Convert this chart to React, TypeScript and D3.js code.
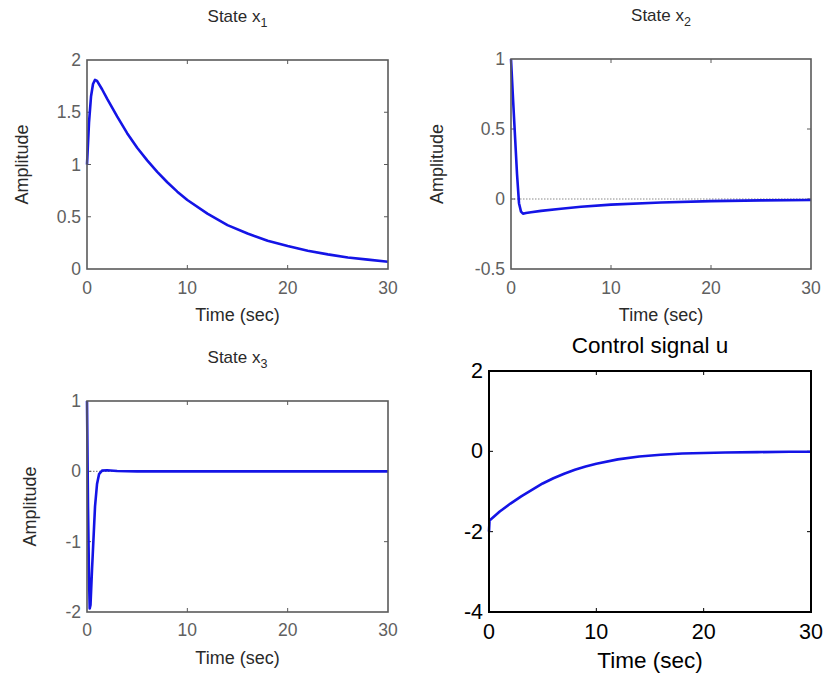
import * as d3 from 'd3';

// time axis shared by every panel
const timeTicks = [0, 10, 20, 30];

// State x1
const x1Time = [0, 0.2, 0.4, 0.6, 0.8, 1.0, 1.5, 2, 3, 4, 5, 6, 7, 8, 9, 10, 12, 14, 16, 18, 20, 22, 24, 26, 28, 30];
const x1Value = [1.0, 1.4, 1.65, 1.77, 1.81, 1.8, 1.72, 1.63, 1.46, 1.3, 1.16, 1.04, 0.93, 0.83, 0.74, 0.66, 0.53, 0.42, 0.34, 0.27, 0.22, 0.175, 0.14, 0.11, 0.09, 0.07];
const x1Ticks = [0, 0.5, 1, 1.5, 2];

// State x2
const x2Time = [0, 0.2, 0.4, 0.6, 0.8, 1.0, 1.2, 1.5, 2, 3, 5, 7, 10, 15, 20, 25, 30];
const x2Value = [1.0, 0.72, 0.45, 0.18, -0.03, -0.09, -0.105, -0.1, -0.095, -0.085, -0.07, -0.055, -0.04, -0.025, -0.015, -0.01, -0.007];
const x2Ticks = [-0.5, 0, 0.5, 1];

// State x3
const x3Time = [0, 0.1, 0.2, 0.27, 0.35, 0.5, 0.8, 1.0, 1.2, 1.5, 2, 3, 5, 30];
const x3Value = [1.0, -0.5, -1.5, -1.95, -1.9, -1.4, -0.5, -0.18, -0.04, 0.01, 0.015, 0.005, 0, 0];
const x3Ticks = [-2, -1, 0, 1];

// Control signal u
const uTime = [0, 0.05, 1, 2, 3, 4, 5, 6, 7, 8, 9, 10, 12, 14, 16, 18, 20, 22, 25, 28, 30];
const uValue = [-2.0, -1.72, -1.5, -1.3, -1.12, -0.96, -0.8, -0.67, -0.56, -0.46, -0.38, -0.31, -0.2, -0.13, -0.085, -0.055, -0.04, -0.03, -0.02, -0.01, -0.01];
const uTicks = [-4, -2, 0, 2];

type PanelProps = {
  left: number; right: number; top: number; bottom: number;
  yTicks: number[]; times: number[]; values: number[];
  title: string; sub?: string; big?: boolean; zeroLine?: boolean;
  ylabel?: boolean; titleY: number; ticksY: number; xlabelY: number; ylabelX: number;
};

function Panel(p: PanelProps) {
  const x = d3.scaleLinear().domain([0, 30]).range([p.left, p.right]);
  const y = d3.scaleLinear().domain(d3.extent(p.yTicks) as [number, number]).range([p.bottom, p.top]);
  const line = d3.line<number>().x((_, i) => x(p.times[i])).y(d => y(d));
  const boxColor = p.big ? '#000' : '#5a5a5a';
  const tickColor = p.big ? '#000' : '#606060';
  const labelColor = p.big ? '#000' : '#2a2a2a';
  const fs = p.big ? 21.5 : 17.5;
  const ls = p.big ? 22.5 : 18;
  const cx = (p.left + p.right) / 2;
  const tl = 4;
  return (
    <g fontFamily="'Liberation Sans', Arial, sans-serif">
      {p.zeroLine && (
        <line x1={p.left} x2={p.right} y1={y(0)} y2={y(0)} stroke="#8a8a8a" strokeWidth={1.2} strokeDasharray="1.5,1.5" />
      )}
      {timeTicks.slice(1, -1).map(t => (
        <g key={'xt' + t} stroke={boxColor} strokeWidth={1}>
          <line x1={x(t)} x2={x(t)} y1={p.bottom} y2={p.bottom - tl} />
          <line x1={x(t)} x2={x(t)} y1={p.top} y2={p.top + tl} />
        </g>
      ))}
      {p.yTicks.slice(1, -1).map(v => (
        <g key={'yt' + v} stroke={boxColor} strokeWidth={1}>
          <line x1={p.left} x2={p.left + tl} y1={y(v)} y2={y(v)} />
          <line x1={p.right} x2={p.right - tl} y1={y(v)} y2={y(v)} />
        </g>
      ))}
      <path d={line(p.values) || ''} fill="none" stroke="#1414e6" strokeWidth={2.6} strokeLinejoin="round" />
      <rect x={p.left} y={p.top} width={p.right - p.left} height={p.bottom - p.top} fill="none" stroke={boxColor} strokeWidth={p.big ? 2 : 1.6} />
      {timeTicks.map(t => (
        <text key={'xl' + t} x={x(t)} y={p.ticksY} textAnchor="middle" dominantBaseline="central" fontSize={fs} fill={tickColor}>{t}</text>
      ))}
      {p.yTicks.map(v => (
        <text key={'yl' + v} x={p.left - 6} y={y(v)} textAnchor="end" dominantBaseline="central" fontSize={fs} fill={tickColor}>{v}</text>
      ))}
      <text x={cx} y={p.xlabelY} textAnchor="middle" dominantBaseline="central" fontSize={ls} fill={labelColor}>Time (sec)</text>
      {p.ylabel && (
        <text transform={`translate(${p.ylabelX},${(p.top + p.bottom) / 2}) rotate(-90)`} textAnchor="middle" dominantBaseline="central" fontSize={ls} fill={labelColor}>Amplitude</text>
      )}
      <text x={cx} y={p.titleY} textAnchor="middle" fontSize={p.big ? 22.5 : 17} fill={labelColor}>
        {p.title}
        {p.sub && <tspan dy={5} fontSize={12.5}>{p.sub}</tspan>}
      </text>
    </g>
  );
}

export default function App() {
  return (
    <svg width={823} height={677} style={{ position: 'absolute', left: 0, top: 0, background: '#fff' }}>
      <rect width={823} height={677} fill="#fff" />
      <Panel left={87} right={388} top={60} bottom={269} yTicks={x1Ticks} times={x1Time} values={x1Value}
        title="State x" sub="1" ylabel titleY={22} ticksY={288} xlabelY={315} ylabelX={22} />
      <Panel left={511} right={811} top={59} bottom={269} yTicks={x2Ticks} times={x2Time} values={x2Value}
        title="State x" sub="2" ylabel zeroLine titleY={21} ticksY={288} xlabelY={315} ylabelX={437} />
      <Panel left={87} right={388} top={401} bottom={612} yTicks={x3Ticks} times={x3Time} values={x3Value}
        title="State x" sub="3" ylabel zeroLine titleY={363} ticksY={630} xlabelY={658} ylabelX={30} />
      <Panel left={489} right={811} top={371} bottom={612} yTicks={uTicks} times={uTime} values={uValue}
        title="Control signal u" big titleY={353} ticksY={632} xlabelY={660} ylabelX={0} />
    </svg>
  );
}
